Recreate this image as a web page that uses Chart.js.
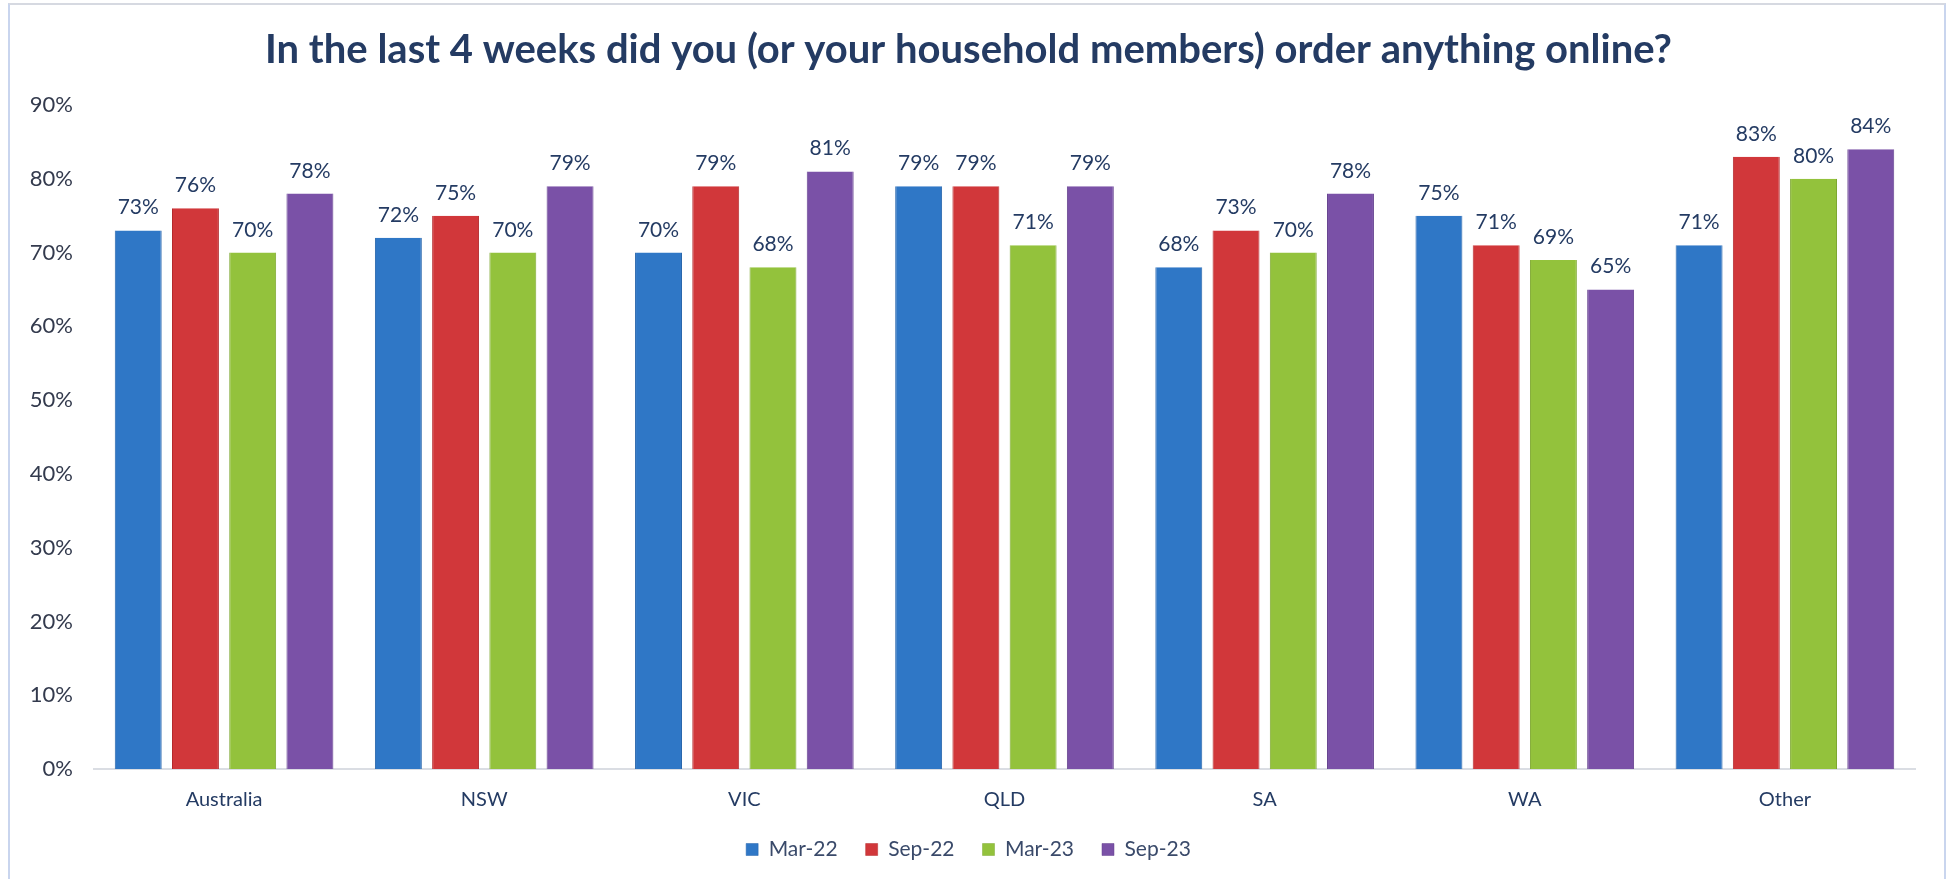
<!DOCTYPE html>
<html>
<head>
<meta charset="utf-8">
<script src="https://cdn.jsdelivr.net/npm/chart.js@4/dist/chart.umd.min.js"></script>
<style>
    html, body { margin: 0; padding: 0; background: #fff; }
    #wrap { position: relative; width: 1952px; height: 879px; overflow: hidden; }
    #frame {
        position: absolute; left: 8px; top: 3px; width: 1938px; height: 900px;
        border-left: 2px solid #c9d5ee; border-right: 2px solid #c9d5ee; border-top: 2px solid #d6d9e1;
        box-sizing: border-box;
    }
    canvas { position: absolute; left: 0; top: 0; }
</style>
</head>
<body>
<div id="wrap">
    <div id="frame"></div>
    <canvas id="online-chart" width="1952" height="879"></canvas>
</div>
<script>
    const regions = ['Australia', 'NSW', 'VIC', 'QLD', 'SA', 'WA', 'Other'];
    const waves = ['Mar-22', 'Sep-22', 'Mar-23', 'Sep-23'];
    const mar22 = [73, 72, 70, 79, 68, 75, 71];
    const sep22 = [76, 75, 79, 79, 73, 71, 83];
    const mar23 = [70, 70, 68, 71, 70, 69, 80];
    const sep23 = [78, 79, 81, 79, 78, 65, 84];
    const yTicks = [0, 10, 20, 30, 40, 50, 60, 70, 80, 90];

    const colours = ['#2f77c6', '#d1373a', '#93c23c', '#7a51a7'];
    const edges = ['#2563aa', '#b42a2d', '#7ea832', '#65418f'];
    const navy = '#243b63';
    const font = 'Lato, "Open Sans", sans-serif';

    // value labels above every bar
    const barLabels = {
        id: 'barLabels',
        afterDatasetsDraw(chart) {
            const ctx = chart.ctx;
            ctx.save();
            ctx.font = '21px ' + font;
            ctx.fillStyle = navy;
            ctx.textAlign = 'center';
            ctx.textBaseline = 'alphabetic';
            chart.data.datasets.forEach((ds, i) => {
                chart.getDatasetMeta(i).data.forEach((bar, j) => {
                    ctx.fillText(ds.data[j] + '%', bar.x, bar.y - 16);
                });
            });
            ctx.restore();
        }
    };

    const series = [mar22, sep22, mar23, sep23];
    const ctx = document.getElementById('online-chart').getContext('2d');
    new Chart(ctx, {
        type: 'bar',
        data: {
            labels: regions,
            datasets: series.map((data, i) => ({
                label: waves[i],
                data: data,
                backgroundColor: colours[i],
                borderColor: edges[i],
                borderWidth: { left: 1, right: 1, top: 0, bottom: 0 },
                barPercentage: 0.82,
                categoryPercentage: 0.88
            }))
        },
        options: {
            responsive: false,
            animation: false,
            layout: { padding: { left: 22, right: 37, top: 0, bottom: 9 } },
            plugins: {
                title: {
                    display: true,
                    text: 'In the last 4 weeks did you (or your household members) order anything online?',
                    color: navy,
                    font: { family: font, size: 40, weight: 'bold' },
                    padding: { top: 26, bottom: 31 }
                },
                legend: {
                    position: 'bottom',
                    labels: {
                        color: '#3a4a6a',
                        font: { family: font, size: 21 },
                        boxWidth: 12,
                        boxHeight: 12,
                        padding: 28
                    }
                },
                tooltip: { enabled: false }
            },
            scales: {
                x: {
                    grid: { display: false },
                    border: { display: true, color: '#dadde3', width: 2 },
                    ticks: { color: navy, font: { family: font, size: 20 }, padding: 11 },
                    afterFit: s => { s.height = 42; }
                },
                y: {
                    min: 0,
                    max: 90,
                    afterBuildTicks: s => { s.ticks = yTicks.map(v => ({ value: v })); },
                    grid: { display: false, drawTicks: false },
                    border: { display: false },
                    ticks: {
                        color: '#333a4d',
                        font: { family: font, size: 22 },
                        padding: 21,
                        callback: v => v + '%'
                    },
                    afterFit: s => { s.width = 72; }
                }
            }
        },
        plugins: [barLabels]
    });
</script>
</body>
</html>
